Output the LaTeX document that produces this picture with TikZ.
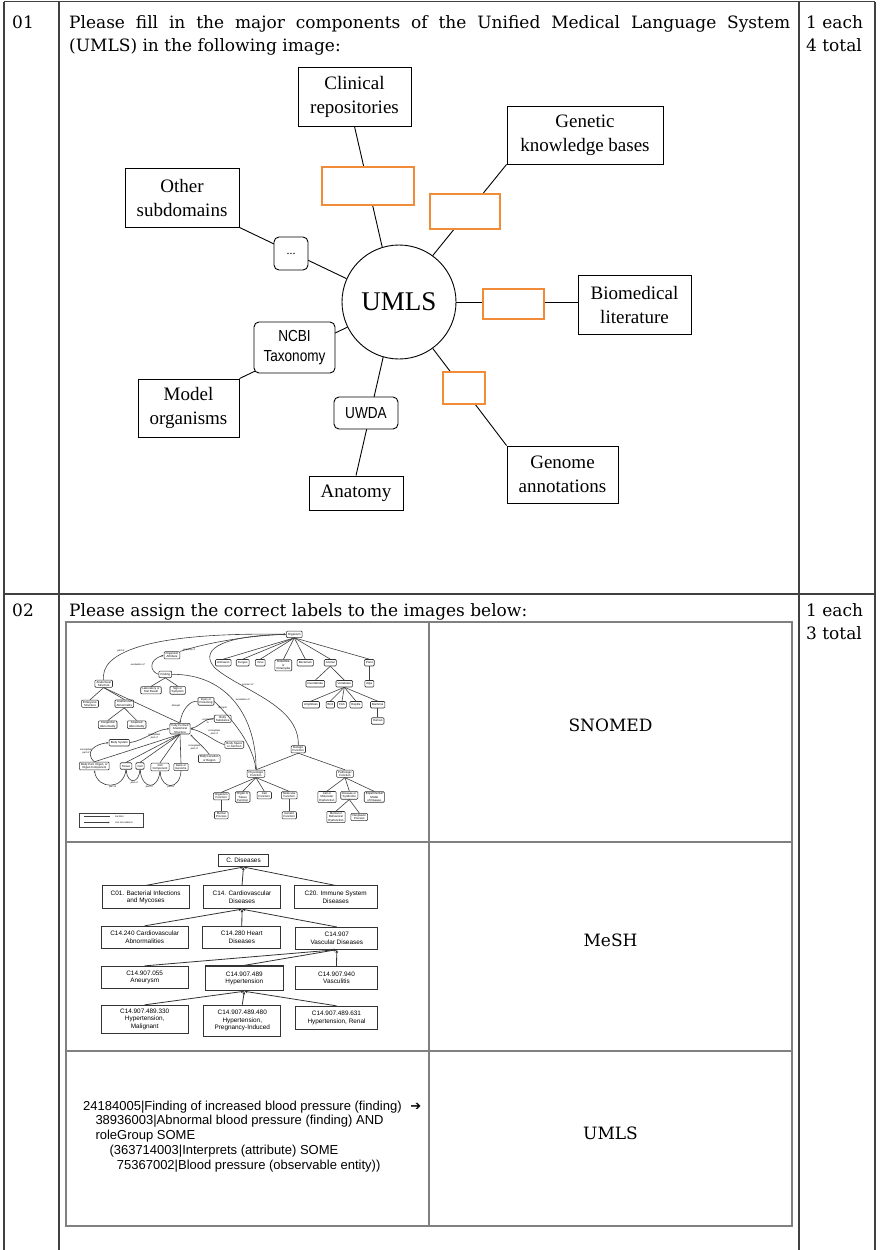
\documentclass[tikz,border=0pt]{standalone}
\usepackage{fontspec}
\setmainfont{DejaVu Serif}
\newfontfamily\boxserif{Liberation Serif}
\newfontfamily\narrowsans{Liberation Sans}[FakeStretch=0.85]
\newfontfamily\arialsans{Liberation Sans}
\newfontfamily\symbolsans{DejaVu Sans}
\usetikzlibrary{arrows.meta,shadows}

\definecolor{blankorange}{RGB}{240,140,55}

\newcommand\prosefont{\fontsize{17}{22}\selectfont}
\newcommand\sourcefont{\boxserif\fontsize{19}{24}\selectfont}
\newcommand\vocabfont{\narrowsans\fontsize{16}{20}\selectfont}
\newcommand\snfont{\arialsans\fontsize{2.9}{3.3}\selectfont}
\newcommand\snlabelfont{\arialsans\itshape\fontsize{2.4}{2.8}\selectfont}
\newcommand\meshfont{\arialsans\fontsize{6.4}{7.5}\selectfont}
\newcommand\axiomfont{\arialsans\fontsize{13}{14.5}\selectfont}

\begin{document}
\begin{tikzpicture}[x=1pt,y=-1pt,
  rule/.style={draw=black!75,line width=1.4pt},
  cellrule/.style={draw=black!50,line width=1.3pt},
  prose/.style={anchor=base west,inner sep=0pt,font=\prosefont},
  answer/.style={font=\prosefont,inner sep=0pt},
  source/.style={draw,line width=0.9pt,fill=white,align=center,font=\sourcefont,
    drop shadow={shadow xshift=1.3pt,shadow yshift=-1.3pt,fill=black!60,opacity=1}},
  blank/.style={draw=blankorange,line width=2.2pt,fill=white},
  vocab/.style={draw,line width=0.9pt,rounded corners=5pt,fill=white,align=center,font=\vocabfont},
  link/.style={line width=0.9pt},
  sn/.style={draw=black!80,line width=0.6pt,rounded corners=1pt,fill=white,align=center,
    font=\snfont,inner xsep=1.6pt,inner ysep=0.9pt,minimum height=6.5pt},
  snisa/.style={draw=black!75,line width=0.6pt},
  snrel/.style={snisa,-{Latex[length=2.2pt,width=1.8pt]}},
  snlabel/.style={font=\snlabelfont,inner sep=0pt,align=center},
  mesh/.style={draw=black!80,line width=0.7pt,fill=white,align=center,font=\meshfont,inner sep=1pt},
  meshedge/.style={draw=black!80,line width=0.8pt,-{Latex[length=3pt,width=3pt]}},
  axiom/.style={anchor=base west,inner sep=0pt,font=\axiomfont}
]
\useasboundingbox (0,0) rectangle (879,1250);
\fill[white] (0,0) rectangle (879,1250);

% outer table
\draw[rule] (4,1.5) -- (875,1.5);
\draw[rule] (4,594) -- (875,594);
\foreach \x in {4,59,799,875}
  \draw[rule] (\x,1.5) -- (\x,1250);

% question texts
\node[prose] (q1num) at (12,28.5) {01};
\node[prose] (q1a) at (69,28.5) {\makebox[721pt][s]{Please fill in the major components of the Unified Medical Language System}};
\node[prose] (q1b) at (69,51) {(UMLS) in the following image:};
\node[prose] (q1pts) at (806,28.5) {1 each};
\node[prose] (q1tot) at (806,51) {4 total};
\node[prose] (q2num) at (12,616.5) {02};
\node[prose] (q2a) at (69,616.5) {Please assign the correct labels to the images below:};
\node[prose] (q2pts) at (806,616.5) {1 each};
\node[prose] (q2tot) at (806,639.5) {3 total};

% UMLS and its sources
\node[draw,circle,line width=0.9pt,minimum size=114pt,font=\boxserif\fontsize{27}{30}\selectfont] (umls) at (399,302) {UMLS};
\node[source,minimum width=113pt,minimum height=59pt] (clin) at (354.5,96.5) {Clinical\\repositories};
\node[source,minimum width=156pt,minimum height=58pt] (genet) at (585,135) {Genetic\\knowledge bases};
\node[source,minimum width=114pt,minimum height=59pt] (other) at (182,197.5) {Other\\subdomains};
\node[source,minimum width=113pt,minimum height=59pt] (biolit) at (634.5,304.5) {Biomedical\\literature};
\node[source,minimum width=101pt,minimum height=58pt] (model) at (188.5,408) {Model\\organisms};
\node[source,minimum width=94pt,minimum height=34pt] (anat) at (356,493) {Anatomy};
\node[source,minimum width=111pt,minimum height=57pt] (genome) at (562.5,474.5) {Genome\\annotations};

\draw[link] (umls.107) -- (clin.south);
\draw[link] (umls.54) -- (genet.south west);
\draw[link] (umls.156) -- (other.south east);
\draw[link] (umls.east) -- (umls.east -| biolit.west);
\draw[link] (umls.-54) -- (genome.north west);
\draw[link] (umls.-106) -- (anat.north);
\draw[link] (umls.206) -- (model.north east);

% vocabularies sitting on the links
\node[blank,minimum width=92pt,minimum height=38pt] (blankclin) at (368,186) {};
\node[blank,minimum width=70pt,minimum height=35pt] (blankgenet) at (465,211.5) {};
\node[blank,minimum width=61pt,minimum height=30pt] (blanklit) at (513.5,304) {};
\node[blank,minimum width=42pt,minimum height=32pt] (blankgenome) at (464,388) {};
\node[vocab,minimum width=34pt,minimum height=33pt,font=\boxserif\fontsize{12}{14}\selectfont] (dots) at (291,253.5) {...};
\node[vocab,minimum width=81pt,minimum height=51pt] (ncbi) at (294.5,347.5) {NCBI\\Taxonomy};
\node[vocab,minimum width=64pt,minimum height=32pt] (uwda) at (366,413) {UWDA};

% inner table
\draw[cellrule] (66,622) rectangle (792,1226);
\draw[cellrule] (429,622) -- (429,1226);
\draw[cellrule] (66,842) -- (792,842);
\draw[cellrule] (66,1051) -- (792,1051);

\node[answer] (ans1) at (610.5,725) {SNOMED};
\node[answer] (ans2) at (610.5,940) {MeSH};
\node[answer] (ans3) at (610.5,1133) {UMLS};

% semantic network
\node[sn] (org) at (294.3,634.3) {Organism};
\node[sn] (oattr) at (172,655.3) {Organism\\Attribute};
\node[sn] (arc) at (223.3,662.7) {Archaeon};
\node[sn] (fun) at (242.7,662.7) {Fungus};
\node[sn] (vir) at (260.3,662.7) {Virus};
\node[sn] (ric) at (283.3,665.3) {Rickettsia\\or\\Chlamydia};
\node[sn] (bac) at (305.3,662.7) {Bacterium};
\node[sn] (ani) at (330.3,662.7) {Animal};
\node[sn] (pla) at (369.3,662.7) {Plant};
\node[sn] (inv) at (315.3,683.7) {Invertebrate};
\node[sn] (vert) at (344.3,683.7) {Vertebrate};
\node[sn] (alg) at (369.3,683.7) {Alga};
\node[sn] (amp) at (311,704.7) {Amphibian};
\node[sn] (bir) at (330.3,704.7) {Bird};
\node[sn] (fis) at (342,704.7) {Fish};
\node[sn] (rep) at (356,704.7) {Reptile};
\node[sn] (mam) at (377.7,704.7) {Mammal};
\node[sn] (hum) at (377.7,721) {Human};
\node[sn] (fin) at (165.3,674.3) {Finding};
\node[sn] (lab) at (151,690.3) {Laboratory or\\Test Result};
\node[sn] (sig) at (177.7,690.3) {Sign or\\Symptom};
\node[sn] (ast) at (103.7,683.7) {Anatomical\\Structure};
\node[sn] (emb) at (90,703.7) {Embryonic\\Structure};
\node[sn] (aab) at (124.3,703.7) {Anatomical\\Abnormality};
\node[sn] (cab) at (107.7,724.7) {Congenital\\Abnormality};
\node[sn] (qab) at (136.7,724.7) {Acquired\\Abnormality};
\node[sn] (inj) at (206,701.3) {Injury or\\Poisoning};
\node[sn] (bsu) at (222.7,718.7) {Body\\Substance};
\node[sn] (ffa) at (180,728.7) {Fully Formed\\Anatomical\\Structure};
\node[sn] (bsj) at (234.3,744.7) {Body Space\\or Junction};
\node[sn] (blr) at (209.3,758.7) {Body Location\\or Region};
\node[sn] (bsy) at (119.3,742.7) {Body System};
\node[sn] (bpo) at (94.3,766) {Body Part, Organ, or\\Organ Component};
\node[sn] (tis) at (126,766) {Tissue};
\node[sn] (cel) at (140,766) {Cell};
\node[sn] (cco) at (160,767) {Cell\\Component};
\node[sn] (gen) at (181,767) {Gene or\\Genome};
\node[sn] (bfu) at (298.3,749.3) {Biologic\\Function};
\node[sn] (phf) at (256,773.7) {Physiologic\\Function};
\node[sn] (paf) at (345,773.7) {Pathologic\\Function};
\node[sn] (orf) at (221.3,796.3) {Organism\\Function};
\node[sn] (otf) at (242.7,797) {Organ or\\Tissue\\Function};
\node[sn] (cef) at (264.3,795.3) {Cell\\Function};
\node[sn] (mof) at (289.3,795.3) {Molecular\\Function};
\node[sn] (mep) at (221.3,815.3) {Mental\\Process};
\node[sn] (gef) at (289.3,815.3) {Genetic\\Function};
\node[sn] (cmd) at (327,797) {Cell or\\Molecular\\Dysfunction};
\node[sn] (dis) at (349.3,795.3) {Disease or\\Syndrome};
\node[sn] (exm) at (374.3,797) {Experimental\\Model\\of Disease};
\node[sn] (mbd) at (336,817) {Mental or\\Behavioral\\Dysfunction};
\node[sn] (neo) at (359.3,817) {Neoplastic\\Process};

% isa links
\foreach \c in {arc,fun,vir,ric,bac,ani,pla}
  \draw[snisa] (org.south) -- (\c.north);
\foreach \c in {inv,vert} \draw[snisa] (ani.south) -- (\c.north);
\foreach \c in {amp,bir,fis,rep,mam} \draw[snisa] (vert.south) -- (\c.north);
\draw[snisa] (mam.south) -- (hum.north);
\draw[snisa] (pla.south) -- (alg.north);
\foreach \c in {lab,sig} \draw[snisa] (fin.south) -- (\c.north);
\foreach \c in {emb,aab,ffa} \draw[snisa] (ast.south) -- (\c.north);
\foreach \c in {cab,qab} \draw[snisa] (aab.south) -- (\c.north);
\foreach \c in {bpo,tis,cel,cco,gen} \draw[snisa] (ffa.south) -- (\c.north);
\foreach \c in {phf,paf} \draw[snisa] (bfu.south) -- (\c.north);
\foreach \c in {orf,otf,cef,mof} \draw[snisa] (phf.south) -- (\c.north);
\draw[snisa] (orf.south) -- (mep.north);
\draw[snisa] (mof.south) -- (gef.north);
\foreach \c in {cmd,dis,exm} \draw[snisa] (paf.south) -- (\c.north);
\foreach \c in {mbd,neo} \draw[snisa] (dis.south) -- (\c.north);

% non-isa relations
\draw[snrel] (ast.north) .. controls (100,655) and (140,632) .. (org.west);
\draw[snrel] (oattr.north east) .. controls (200,645) and (240,636) .. (org.west);
\draw[snrel] (fin.west) .. controls (150,672) and (148,660) .. (oattr.west);
\draw[snrel] (fin.east) .. controls (230,674) and (256,720) .. (phf.north);
\draw[snrel] (bfu.north) .. controls (300,705) and (240,690) .. (215,668)
  .. controls (200,652) and (215,636) .. (org.west);
\draw[snrel] (inj.west) .. controls (190,700) and (182,710) .. (ffa.north);
\draw[snrel] (inj.east) .. controls (225,712) and (252,740) .. (phf.north);
\draw[snrel] (bsu.west) .. controls (205,718) and (200,726) .. (ffa.east);
\draw[snrel] (bsj.west) .. controls (215,742) and (205,732) .. (ffa.east);
\draw[snrel] (blr.north) .. controls (205,748) and (195,740) .. (ffa.south east);
\draw[snrel] (bsy.east) .. controls (145,740) and (155,730) .. (ffa.west);
\draw[snrel] (bpo.north) .. controls (84,752) and (95,744) .. (bsy.west);
\draw[snrel] (tis.south) .. controls (124,790) and (98,790) .. (bpo.south);
\draw[snrel] (cel.south) .. controls (139,784) and (128,784) .. (tis.south);
\draw[snrel] (cco.south) .. controls (158,790) and (143,790) .. (cel.south);
\draw[snrel] (gen.south) .. controls (180,790) and (162,790) .. (cco.south);

\node[snlabel] at (121,651) {part of};
\node[snlabel] at (189,650.3) {property of};
\node[snlabel] at (137.7,664.7) {evaluation of};
\node[snlabel] at (242.7,699.3) {evaluation of};
\node[snlabel] at (247.7,685.3) {process of};
\node[snlabel] at (176,706.3) {disrupts};
\node[snlabel] at (222.7,708) {disrupts};
\node[snlabel] at (207.7,721.3) {contained\\in};
\node[snlabel] at (214.3,732) {conceptual\\part of};
\node[snlabel] at (194.3,747) {conceptual\\part of};
\node[snlabel] at (154.3,736) {conceptual\\part of};
\node[snlabel] at (86,751.3) {conceptual\\part of};
\node[snlabel] at (112.7,787) {part of};
\node[snlabel] at (134.3,782.7) {part of};
\node[snlabel] at (149.3,787) {part of};
\node[snlabel] at (171,787) {part of};

% legend
\node[draw=black!75,line width=0.6pt,minimum width=64pt,minimum height=14pt,inner sep=0pt] (legend) at (111.3,820) {};
\draw[snisa] (84,816.5) -- (110,816.5);
\draw[snrel] (84,822.5) -- (110,822.5);
\node[snlabel,anchor=west] at (115,816.5) {isa links};
\node[snlabel,anchor=west] at (115,822.5) {non-isa relations};

% MeSH tree
\node[mesh,minimum width=49.6pt,minimum height=12.7pt] (cdis) at (243.5,860.3) {C. Diseases};
\node[mesh,minimum width=87pt,minimum height=23pt] (c01) at (145.7,897.3) {C01. Bacterial Infections\\and Mycoses};
\node[mesh,minimum width=77pt,minimum height=23pt] (c14) at (242,897.3) {C14. Cardiovascular\\Diseases};
\node[mesh,minimum width=83pt,minimum height=23pt] (c20) at (335.7,897.3) {C20. Immune System\\Diseases};
\node[mesh,minimum width=87pt,minimum height=22pt] (c240) at (144.7,937.2) {C14.240 Cardiovascular\\Abnormalities};
\node[mesh,minimum width=78pt,minimum height=22pt] (c280) at (241.8,937.2) {C14.280 Heart\\Diseases};
\node[mesh,minimum width=82pt,minimum height=22pt] (c907) at (336.8,938.3) {C14.907\\Vascular Diseases};
\node[mesh,minimum width=87pt,minimum height=22pt] (c055) at (144.7,977.2) {C14.907.055\\Aneurysm};
\node[mesh,minimum width=78pt,minimum height=24.5pt,line width=1.4pt] (c489) at (244.3,978.3) {C14.907.489\\Hypertension};
\node[mesh,minimum width=82pt,minimum height=23pt] (c940) at (336.5,977.7) {C14.907.940\\Vasculitis};
\node[mesh,minimum width=87pt,minimum height=28pt] (c330) at (144.7,1019.2) {C14.907.489.330\\Hypertension,\\Malignant};
\node[mesh,minimum width=77pt,minimum height=31.5pt] (c480) at (242.3,1020.8) {C14.907.489.480\\Hypertension,\\Pregnancy-Induced};
\node[mesh,minimum width=82pt,minimum height=23pt] (c631) at (336.5,1017.7) {C14.907.489.631\\Hypertension, Renal};

\foreach \c in {c01,c14,c20} \draw[meshedge] (\c.north) -- (cdis.south);
\foreach \c in {c240,c280,c907} \draw[meshedge] (\c.north) -- (c14.south);
\foreach \c in {c055,c489,c940} \draw[meshedge] (\c.north) -- (c907.south);
\foreach \c in {c330,c480,c631} \draw[meshedge] (\c.north) -- (c489.south);

% UMLS axiom
\node[axiom] (ax1) at (83,1110) {24184005|Finding of increased blood pressure (finding)\hspace{5pt} {\symbolsans ➔}};
\node[axiom] (ax2) at (95.3,1124.5) {38936003|Abnormal blood pressure (finding) AND};
\node[axiom] (ax3) at (95.3,1139) {roleGroup SOME};
\node[axiom] (ax4) at (109.3,1154) {(363714003|Interprets (attribute) SOME};
\node[axiom] (ax5) at (116.7,1169) {75367002|Blood pressure (observable entity))};
\end{tikzpicture}
\end{document}
